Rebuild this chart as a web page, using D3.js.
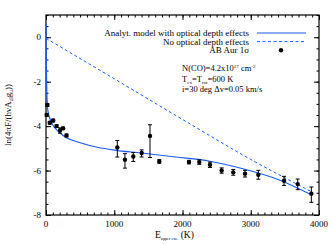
<!DOCTYPE html>
<html>
<head>
<meta charset="utf-8">
<script src="https://cdn.jsdelivr.net/npm/d3@7"></script>
<style>
  body { margin: 0; background: #fff; }
  svg { font-family: "Liberation Serif", "DejaVu Serif", serif; }
</style>
</head>
<body>
<div id="chart"></div>
<script>
// observed points : energie (K), ln value, erreur basse, erreur haute
const obsE = [10, 20, 55, 105, 155, 205, 250, 300,
  1045, 1157, 1279, 1402, 1524, 1660, 2095, 2246, 2403, 2574, 2744, 2916, 3111, 3488, 3688, 3888];
const obsY = [-3.5, -3.05, -3.85, -3.75, -4.0, -4.2, -4.1, -4.42,
  -4.96, -5.51, -5.37, -5.21, -4.44, -5.59, -5.62, -5.62, -5.74, -6.0, -6.08, -6.14, -6.19, -6.46, -6.61, -7.04];
const errLo = [0.06, 0.06, 0.06, 0.06, 0.06, 0.12, 0.06, 0.06,
  0.43, 0.38, 0.22, 0.18, 0.97, 0.08, 0.08, 0.1, 0.12, 0.12, 0.13, 0.15, 0.2, 0.21, 0.25, 0.39];
const errHi = [0.06, 0.06, 0.06, 0.06, 0.06, 0.12, 0.06, 0.06,
  0.31, 0.27, 0.18, 0.14, 0.5, 0.08, 0.08, 0.1, 0.12, 0.12, 0.13, 0.15, 0.2, 0.2, 0.23, 0.3];

// modele avec profondeur optique
const modelE = [0, 3, 6, 10, 15, 20, 30, 50, 75, 100, 150, 200, 300, 500, 750, 1000, 1400, 1900, 2400, 2900, 3400, 3888];
const modelY = [0.6, -0.6, -1.5, -2.2, -2.75, -3.05, -3.35, -3.6, -3.8, -3.95, -4.15, -4.3, -4.52, -4.75, -4.95, -5.08, -5.21, -5.39, -5.58, -5.93, -6.4, -7.09];

// sans profondeur optique
const thinE = [0, 1000, 2000, 3000, 3888];
const thinY = [-0.05, -1.87, -3.7, -5.5, -6.95];

const xTicks = [0, 1000, 2000, 3000, 4000];
const yTicks = [0, -2, -4, -6, -8];

const W = 333, H = 245;
const margin = { top: 15, right: 14, bottom: 30, left: 46 };
const width = W - margin.left - margin.right;
const height = H - margin.top - margin.bottom;

const svg = d3.select("#chart").append("svg")
  .attr("width", W).attr("height", H);
const g = svg.append("g")
  .attr("transform", "translate(" + margin.left + "," + margin.top + ")");

const x = d3.scaleLinear().domain([0, 4000]).range([0, width]);
const y = d3.scaleLinear().domain([-8, 1]).range([height, 0]);

// ticks (vers l'interieur, sur les 4 cotes)
const xMinor = d3.range(0, 4001, 100);
const yMinor = d3.range(-8, 1.01, 0.5);

function tickAxis(axis, ticks, len) {
  return axis.tickValues(ticks).tickSize(len).tickSizeOuter(0).tickFormat("");
}

// minor
g.append("g").attr("transform", "translate(0," + height + ")")
  .call(tickAxis(d3.axisTop(x), xMinor, 2.5));
g.append("g").call(tickAxis(d3.axisBottom(x), xMinor, 2.5));
g.append("g").call(tickAxis(d3.axisRight(y), yMinor, 2.5));
g.append("g").attr("transform", "translate(" + width + ",0)")
  .call(tickAxis(d3.axisLeft(y), yMinor, 2.5));
// major
g.append("g").attr("transform", "translate(0," + height + ")")
  .call(tickAxis(d3.axisTop(x), xTicks, 5));
g.append("g").call(tickAxis(d3.axisBottom(x), xTicks, 5));
g.append("g").call(tickAxis(d3.axisRight(y), yTicks, 5));
g.append("g").attr("transform", "translate(" + width + ",0)")
  .call(tickAxis(d3.axisLeft(y), yTicks, 5));

g.selectAll(".domain").remove();
g.selectAll(".tick line").attr("stroke", "#000").attr("stroke-width", 1);

// tick labels
g.selectAll(".xlab").data(xTicks).enter().append("text")
  .attr("x", d => x(d)).attr("y", height + 12)
  .attr("text-anchor", "middle").attr("font-size", 9).text(d => d);
g.selectAll(".ylab").data(yTicks).enter().append("text")
  .attr("x", -5).attr("y", d => y(d) + 3)
  .attr("text-anchor", "end").attr("font-size", 9).text(d => d);

// cadre
g.append("rect").attr("width", width).attr("height", height)
  .attr("fill", "none").attr("stroke", "#000").attr("stroke-width", 1.2);

const blue = "#1a5cff";
const line = d3.line().x(d => x(d[0])).y(d => y(d[1])).curve(d3.curveMonotoneX);

g.append("path")
  .datum(thinE.map((e, i) => [e, thinY[i]]))
  .attr("d", line).attr("fill", "none").attr("stroke", blue)
  .attr("stroke-width", 1).attr("stroke-dasharray", "3,2.5");

g.append("path")
  .datum(modelE.map((e, i) => [e, modelY[i]]))
  .attr("d", line).attr("fill", "none").attr("stroke", blue)
  .attr("stroke-width", 1.2);

// barres d'erreur + points
const obs = obsE.map((e, i) => ({ e: e, v: obsY[i], lo: errLo[i], hi: errHi[i] }));
const eb = g.selectAll(".eb").data(obs).enter().append("g");
eb.append("line")
  .attr("x1", d => x(d.e)).attr("x2", d => x(d.e))
  .attr("y1", d => y(d.v + d.hi)).attr("y2", d => y(d.v - d.lo))
  .attr("stroke", "#000").attr("stroke-width", 1);
eb.append("line")
  .attr("x1", d => x(d.e) - 2).attr("x2", d => x(d.e) + 2)
  .attr("y1", d => y(d.v + d.hi)).attr("y2", d => y(d.v + d.hi))
  .attr("stroke", "#000").attr("stroke-width", 1);
eb.append("line")
  .attr("x1", d => x(d.e) - 2).attr("x2", d => x(d.e) + 2)
  .attr("y1", d => y(d.v - d.lo)).attr("y2", d => y(d.v - d.lo))
  .attr("stroke", "#000").attr("stroke-width", 1);
eb.append("circle")
  .attr("cx", d => x(d.e)).attr("cy", d => y(d.v)).attr("r", 2.2)
  .attr("fill", "#000");

// legende
const legX = 203, legY = 18;
const leg = [
  { label: "Analyt. model with optical depth effects", dash: null },
  { label: "No optical depth effects", dash: "3,2.5" },
  { label: "AB Aur 1\u03c3", dash: "dot" }
];
leg.forEach((d, i) => {
  const ly = legY + i * 8.6;
  g.append("text").attr("x", legX).attr("y", ly + 3)
    .attr("text-anchor", "end").attr("font-size", 9).text(d.label);
  if (d.dash === "dot") {
    g.append("circle").attr("cx", legX + 32).attr("cy", ly).attr("r", 2.2).attr("fill", "#000");
  } else {
    g.append("line").attr("x1", legX + 8).attr("x2", legX + 57)
      .attr("y1", ly).attr("y2", ly)
      .attr("stroke", blue).attr("stroke-width", d.dash ? 1 : 1.2)
      .attr("stroke-dasharray", d.dash);
  }
});

// annotations
const ann = g.append("g").attr("font-size", 8.5);
const a1 = ann.append("text").attr("x", 136).attr("y", 56);
a1.append("tspan").text("N(CO)=4.2x10");
a1.append("tspan").attr("font-size", 5).attr("dy", -3).text("17");
a1.append("tspan").attr("dy", 3).text(" cm");
a1.append("tspan").attr("font-size", 5).attr("dy", -3).text("-2");
const a2 = ann.append("text").attr("x", 136).attr("y", 66.5);
a2.append("tspan").text("T");
a2.append("tspan").attr("font-size", 5).attr("dy", 2).text("ex");
a2.append("tspan").attr("dy", -2).text("=T");
a2.append("tspan").attr("font-size", 5).attr("dy", 2).text("rot");
a2.append("tspan").attr("dy", -2).text("=600 K");
ann.append("text").attr("x", 136).attr("y", 77)
  .text("i=30 deg  \u0394v=0.05 km/s");

// titres des axes
const xl = svg.append("text").attr("x", 155).attr("y", 238).attr("font-size", 9.5);
xl.append("tspan").text("E");
xl.append("tspan").attr("font-size", 4.2).attr("dy", 2).text("upper exc.");
xl.append("tspan").attr("dy", -2).text(" (K)");

const yl = svg.append("text")
  .attr("transform", "translate(11," + (margin.top + height / 2) + ") rotate(-90)")
  .attr("text-anchor", "middle").attr("font-size", 9);
yl.append("tspan").text("ln(4\u03c0F/(h\u03bdA");
yl.append("tspan").attr("font-size", 5.5).attr("dy", 2).text("ul");
yl.append("tspan").attr("dy", -2).text("g");
yl.append("tspan").attr("font-size", 5.5).attr("dy", 2).text("u");
yl.append("tspan").attr("dy", -2).text("))");
</script>
</body>
</html>
